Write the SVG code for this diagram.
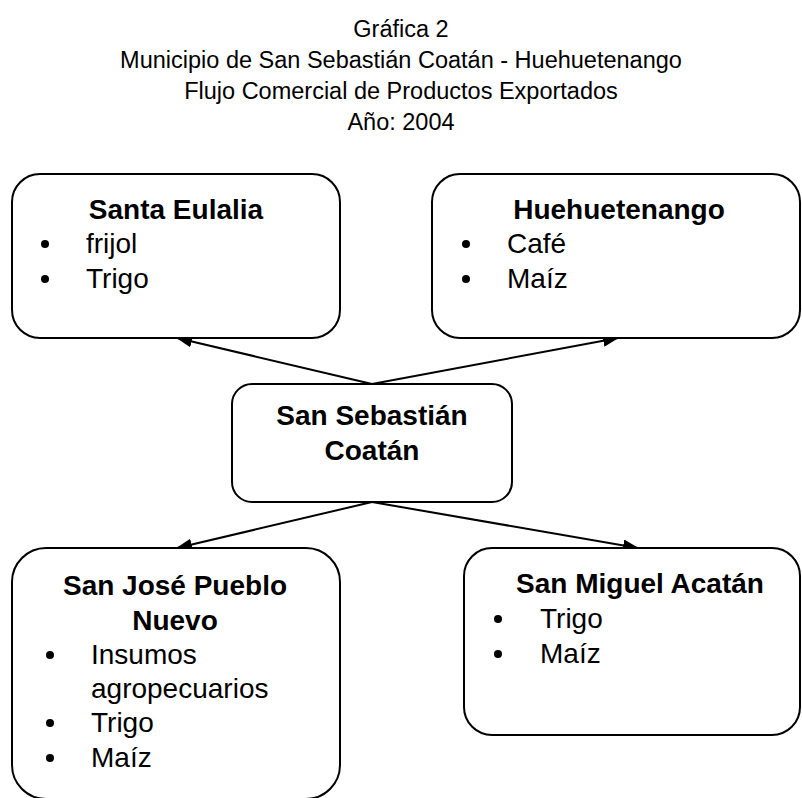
<svg xmlns="http://www.w3.org/2000/svg" width="802" height="798" viewBox="0 0 802 798">
<style>
.box{fill:#fff;stroke:#000;stroke-width:2}
.t{font-family:"Liberation Sans",Arial,sans-serif;font-size:23.5px;fill:#000;text-anchor:middle}
.h{font-family:"Liberation Sans",Arial,sans-serif;font-size:28px;font-weight:bold;fill:#000;text-anchor:middle}
.b{font-family:"Liberation Sans",Arial,sans-serif;font-size:28px;fill:#000}
.c{stroke:#000;stroke-width:2;fill:none;marker-end:url(#ah)}
</style>
<defs>
<marker id="ah" viewBox="0 0 16 12" refX="15" refY="6" markerWidth="16" markerHeight="12" markerUnits="userSpaceOnUse" orient="auto">
<path d="M0,0 L16,6 L0,12 Z" fill="#000"/>
</marker>
</defs>
<rect width="802" height="798" fill="#fff"/>
<g id="title">
<text class="t" x="401" y="37">Gráfica 2</text>
<text class="t" x="401" y="68">Municipio de San Sebastián Coatán - Huehuetenango</text>
<text class="t" x="401" y="99">Flujo Comercial de Productos Exportados</text>
<text class="t" x="401" y="130">Año: 2004</text>
</g>
<g id="connectors">
<path class="c" d="M372,384 L177,338"/>
<path class="c" d="M372,384 L618,338"/>
<path class="c" d="M372,502 L177,548"/>
<path class="c" d="M372,502 L638,548"/>
</g>
<g id="santa-eulalia">
<rect class="box" x="12" y="174" width="328" height="164" rx="28"/>
<text class="h" x="176" y="219">Santa Eulalia</text>
<circle cx="45" cy="244" r="4"/>
<text class="b" x="86" y="253">frijol</text>
<circle cx="45" cy="279" r="4"/>
<text class="b" x="86" y="288">Trigo</text>
</g>
<g id="huehuetenango">
<rect class="box" x="432" y="174" width="368" height="164" rx="28"/>
<text class="h" x="619" y="219">Huehuetenango</text>
<circle cx="466" cy="244" r="4"/>
<text class="b" x="507" y="253">Café</text>
<circle cx="466" cy="279" r="4"/>
<text class="b" x="507" y="288">Maíz</text>
</g>
<g id="san-sebastian">
<rect class="box" x="232" y="384" width="280" height="118" rx="20"/>
<text class="h" x="372" y="425">San Sebastián</text>
<text class="h" x="372" y="460">Coatán</text>
</g>
<g id="san-jose">
<rect class="box" x="12" y="548" width="328" height="251" rx="34"/>
<text class="h" x="175" y="595">San José Pueblo</text>
<text class="h" x="175" y="630">Nuevo</text>
<circle cx="50" cy="655" r="4"/>
<text class="b" x="91" y="664">Insumos</text>
<text class="b" x="91" y="698">agropecuarios</text>
<circle cx="50" cy="723" r="4"/>
<text class="b" x="91" y="732">Trigo</text>
<circle cx="50" cy="758" r="4"/>
<text class="b" x="91" y="767">Maíz</text>
</g>
<g id="san-miguel">
<rect class="box" x="464" y="548" width="336" height="187" rx="28"/>
<text class="h" x="640" y="593">San Miguel Acatán</text>
<circle cx="498" cy="619" r="4"/>
<text class="b" x="540" y="628">Trigo</text>
<circle cx="498" cy="654" r="4"/>
<text class="b" x="540" y="663">Maíz</text>
</g>
</svg>
